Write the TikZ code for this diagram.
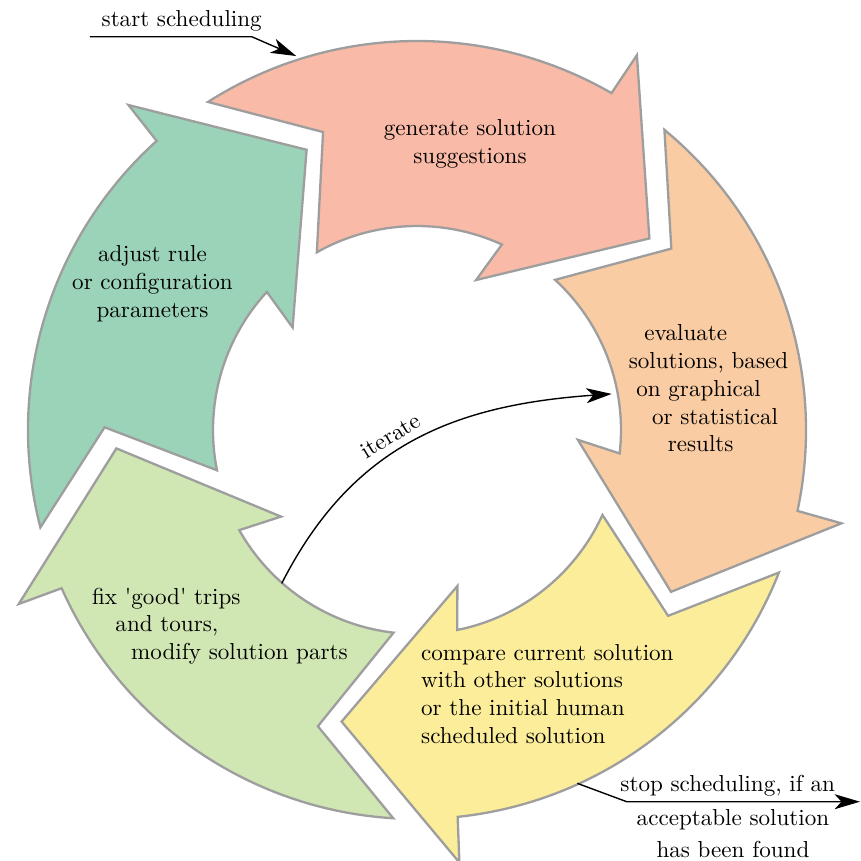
\documentclass[tikz,border=0pt]{standalone}
\usetikzlibrary{arrows.meta}

\definecolor{salmonfill}{RGB}{249,187,167}
\definecolor{orangefill}{RGB}{249,204,163}
\definecolor{yellowfill}{RGB}{252,237,154}
\definecolor{lgreenfill}{RGB}{208,230,179}
\definecolor{greenfill}{RGB}{155,211,185}
\definecolor{bordergray}{RGB}{158,158,158}

\tikzset{
  cyclearrow/.style={draw=bordergray, line width=1pt, line join=miter},
  steptext/.style={inner sep=0pt, text=black},
  flow/.style={line width=0.6pt, -{Stealth[length=11pt, width=6.5pt, inset=3pt]}},
}

\begin{document}
\begin{tikzpicture}[x=0.433pt, y=0.433pt]
  % canvas, centre of the cycle at the origin
  \useasboundingbox (-417,-431) rectangle (444,430);

  % five curved arrows of the cycle, each one a copy of the top one turned by 72 degrees
  \foreach \rot/\col in {0/salmonfill, -72/orangefill, -144/yellowfill, 144/lgreenfill, 72/greenfill} {
    \draw[cyclearrow, fill=\col, rotate=\rot]
      (122.5:389) arc[start angle=122.5, end angle=60, radius=389]
      -- (59.6:434.6) -- (39.5:301.2) -- (68.5:161.2) -- (65.4:204)
      arc[start angle=65.4, end angle=119.4, radius=204]
      -- (107.5:312.4) -- cycle;
  }

  % step texts
  \node[steptext, align=center] (generate) at (53,285.9)
    {generate solution\\suggestions};
  \node[steptext, align=left, anchor=west] (evaluate) at (211.3,41.6)
    {\hspace*{6.8pt}evaluate\\solutions, based\\\hspace*{3.3pt}on graphical\\\hspace*{10.1pt}or statistical\\\hspace*{16.9pt}results};
  \node[steptext, align=left, anchor=west] (compare) at (3.7,-263.8)
    {compare current solution\\with other solutions\\or the initial human\\scheduled solution};
  \node[steptext, align=left, anchor=west] (fix) at (-325.3,-196.1)
    {fix \textquotesingle good\textquotesingle{} trips\\\hspace*{10.1pt}and tours,\\\hspace*{16.9pt}modify solution parts};
  \node[steptext, align=center] (adjust) at (-264.5,146.2)
    {adjust rule\\or configuration\\parameters};

  % entry and exit of the cycle
  \coordinate (startFrom) at (-327,393.3);
  \coordinate (startBend) at (-165.3,393.3);
  \coordinate (startTo) at (107.9:393);
  \node[steptext] (startLabel) at (-235.3,409.1) {start scheduling};
  \draw[flow] (startFrom) -- (startBend) -- (startTo);

  \coordinate (stopFrom) at (-65.6:388);
  \coordinate (stopBend) at (209.7,-371.7);
  \coordinate (stopTo) at (443,-371.7);
  \node[steptext] (stopLabel) at (310.7,-355.9) {stop scheduling, if an};
  \node[steptext, align=center] (stopLabelB) at (316,-403.8)
    {acceptable solution\\[1.9pt]has been found};
  \draw[flow] (stopFrom) -- (stopBend) -- (stopTo);

  % iteration shortcut through the middle
  \coordinate (iterFrom) at (228.6:204.6);
  \coordinate (iterTo) at (10.5:198);
  \draw[flow] (iterFrom) to[out=63, in=184, looseness=1.05]
    node[sloped, above, pos=0.45] (iterLabel) {iterate} (iterTo);
\end{tikzpicture}
\end{document}
